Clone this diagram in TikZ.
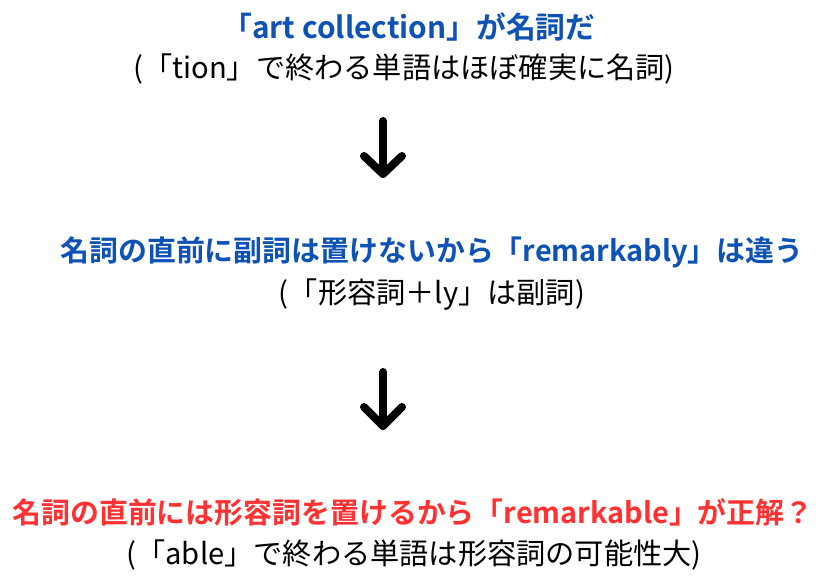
\documentclass[tikz,border=0pt]{standalone}
\usepackage{fontspec}
\setmainfont{Noto Sans CJK JP}[BoldFont={Noto Sans CJK JP Bold}]
\definecolor{hblue}{RGB}{14,82,182}
\definecolor{hred}{RGB}{255,49,49}
\tikzset{
  head/.style={font=\fontsize{28.9}{33}\selectfont\bfseries, inner sep=0pt},
  sub/.style={font=\fontsize{29.2}{33}\selectfont, inner sep=0pt, text=black},
  bigarrow/.style={line width=8pt, line cap=round, line join=round, draw=black}
}
\begin{document}
\begin{tikzpicture}[x=1pt,y=-1pt]
\useasboundingbox[fill=white] (0,0) rectangle (830,580);
\node[head, text=hblue, font=\fontsize{29.8}{33}\selectfont\bfseries] (t1) at (409,27) {「art collection」が名詞だ};
\node[sub] (s1) at (404,69) {(「tion」で終わる単語はほぼ確実に名詞)};
\coordinate (a1top) at (383,121);
\coordinate (a1tip) at (383,174);
\coordinate (a1l) at (364,156);
\coordinate (a1r) at (402,156);
\draw[bigarrow] (a1top) -- (a1tip);
\draw[bigarrow] (a1l) -- (a1tip) -- (a1r);
\node[head, text=hblue] (t2) at (432,252) {名詞の直前に副詞は置けないから「remarkably」は違う};
\node[sub] (s2) at (432,295) {(「形容詞＋ly」は副詞)};
\coordinate (a2top) at (383,372);
\coordinate (a2tip) at (383,426);
\coordinate (a2l) at (364,407);
\coordinate (a2r) at (402,407);
\draw[bigarrow] (a2top) -- (a2tip);
\draw[bigarrow] (a2l) -- (a2tip) -- (a2r);
\node[head, text=hred] (t3) at (413,512) {名詞の直前には形容詞を置けるから「remarkable」が正解？};
\node[sub] (s3) at (414,555) {(「able」で終わる単語は形容詞の可能性大)};
\end{tikzpicture}
\end{document}
